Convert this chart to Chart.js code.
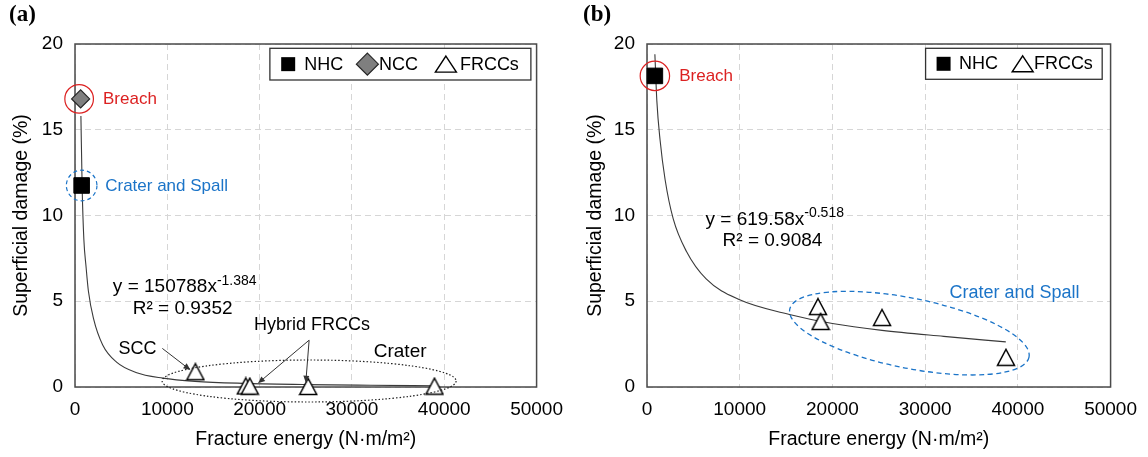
<!DOCTYPE html>
<html>
<head>
<meta charset="utf-8">
<script src="https://cdn.jsdelivr.net/npm/chart.js@4.4.1/dist/chart.umd.min.js"></script>
<style>
  html, body { margin: 0; padding: 0; background: #fff; }
  #wrap { display: flex; width: 1148px; height: 457px; }
  canvas { display: block; }
</style>
</head>
<body>
<div id="wrap">
  <canvas id="chartA" width="574" height="457"></canvas>
  <canvas id="chartB" width="574" height="457"></canvas>
</div>
<script>
// ---- data ----
const xTicks = [0, 10000, 20000, 30000, 40000, 50000];
const yTicks = [0, 5, 10, 15, 20];

// (a)
const nhcEnergyA = [720];
const nhcDamageA = [11.75];
const nccEnergyA = [610];
const nccDamageA = [16.8];
const frccEnergyA = [13040, 18500, 18930, 25260, 38940];
const frccDamageA = [0.89, 0.06, 0.05, 0.03, 0.05];
const fitEnergyA = [640, 780, 960, 1200, 1450, 2000, 3000, 4500, 6600, 9500, 13000, 18500, 25000, 32000, 38940];
const fitDamageA = [15.8, 11.5, 8.6, 7.0, 5.6, 4.0, 2.45, 1.45, 0.85, 0.52, 0.33, 0.21, 0.14, 0.1, 0.07];

// (b)
const nhcEnergyB = [850];
const nhcDamageB = [18.14];
const frccEnergyB = [18440, 18720, 25350, 38720];
const frccDamageB = [4.69, 3.82, 4.05, 1.73];
const fitEnergyB = [850, 1060, 1410, 1950, 2830, 4260, 6380, 9930, 15600, 20000, 25350, 32000, 38700];
const fitDamageB = [19.4, 16.7, 14.4, 12.1, 9.8, 7.9, 6.3, 5.1, 4.2, 3.7, 3.3, 2.95, 2.63];

const FONT = "'Liberation Sans', Arial, sans-serif";
const RED = '#dc2121';
const BLUE = '#1b74c8';

const zip = (xs, ys) => xs.map((x, i) => ({ x: x, y: ys[i] }));

// white triangle marker, centred on its box like the original
function makeTriangle(w, h, lw) {
  const c = document.createElement('canvas');
  c.width = Math.ceil(w + lw * 2);
  c.height = Math.ceil(h + lw * 2);
  const g = c.getContext('2d');
  const ox = (c.width - w) / 2, oy = (c.height - h) / 2;
  g.beginPath();
  g.moveTo(ox + w / 2, oy);
  g.lineTo(ox + w, oy + h);
  g.lineTo(ox, oy + h);
  g.closePath();
  g.fillStyle = '#fff';
  g.fill();
  g.lineWidth = lw;
  g.strokeStyle = '#000';
  g.stroke();
  return c;
}
const triMark = makeTriangle(17, 16, 1.5);

function drawShape(ctx, shape, cx, cy) {
  ctx.save();
  ctx.beginPath();
  if (shape === 'square') {
    ctx.rect(cx - 7, cy - 7, 14, 14);
    ctx.fillStyle = '#000';
    ctx.fill();
  } else if (shape === 'diamond') {
    ctx.moveTo(cx, cy - 11); ctx.lineTo(cx + 11, cy); ctx.lineTo(cx, cy + 11); ctx.lineTo(cx - 11, cy);
    ctx.closePath();
    ctx.fillStyle = '#7f7f7f';
    ctx.fill();
    ctx.lineWidth = 1.2;
    ctx.strokeStyle = '#262626';
    ctx.stroke();
  } else {
    ctx.moveTo(cx, cy - 8); ctx.lineTo(cx + 10.5, cy + 8); ctx.lineTo(cx - 10.5, cy + 8);
    ctx.closePath();
    ctx.fillStyle = '#fff';
    ctx.fill();
    ctx.lineWidth = 1.4;
    ctx.strokeStyle = '#000';
    ctx.stroke();
  }
  ctx.restore();
}

const framePlugin = {
  id: 'frame',
  beforeDatasetsDraw(chart) {
    const a = chart.chartArea, ctx = chart.ctx;
    ctx.save();
    ctx.strokeStyle = '#4a4a4a';
    ctx.lineWidth = 1.5;
    ctx.strokeRect(a.left, a.top, a.right - a.left, a.bottom - a.top);
    ctx.restore();
  }
};

const notesPlugin = {
  id: 'notes',
  afterDraw(chart, args, opts) {
    const ctx = chart.ctx, xs = chart.scales.x, ys = chart.scales.y, a = chart.chartArea;
    const px = v => xs.getPixelForValue(v), py = v => ys.getPixelForValue(v);

    // panel letter
    ctx.save();
    ctx.font = "bold 23px 'Liberation Serif', 'Times New Roman', serif";
    ctx.fillStyle = '#000';
    ctx.textBaseline = 'middle';
    ctx.fillText(opts.panel, 9, 15);
    ctx.restore();

    (opts.items || []).forEach(it => {
      ctx.save();
      if (it.type === 'circle' || it.type === 'ellipse') {
        ctx.beginPath();
        ctx.ellipse(px(it.x) + (it.dx || 0), py(it.y), it.rx, it.ry, (it.rot || 0) * Math.PI / 180, 0, Math.PI * 2);
        ctx.strokeStyle = it.color;
        ctx.lineWidth = it.lw || 1.2;
        ctx.setLineDash(it.dash || []);
        ctx.stroke();
      } else if (it.type === 'arrow') {
        const x1 = px(it.x1), y1 = py(it.y1), x2 = px(it.x2), y2 = py(it.y2);
        const ang = Math.atan2(y2 - y1, x2 - x1);
        ctx.strokeStyle = '#333';
        ctx.fillStyle = '#333';
        ctx.lineWidth = 1;
        ctx.beginPath();
        ctx.moveTo(x1, y1);
        ctx.lineTo(x2 - 5 * Math.cos(ang), y2 - 5 * Math.sin(ang));
        ctx.stroke();
        ctx.beginPath();
        ctx.moveTo(x2, y2);
        ctx.lineTo(x2 - 7 * Math.cos(ang) + 3 * Math.sin(ang), y2 - 7 * Math.sin(ang) - 3 * Math.cos(ang));
        ctx.lineTo(x2 - 7 * Math.cos(ang) - 3 * Math.sin(ang), y2 - 7 * Math.sin(ang) + 3 * Math.cos(ang));
        ctx.closePath();
        ctx.fill();
      } else if (it.type === 'text') {
        ctx.font = (it.size || 18) + 'px ' + FONT;
        ctx.fillStyle = it.color || '#000';
        ctx.textBaseline = 'middle';
        const x = px(it.x), y = py(it.y);
        ctx.fillText(it.text, x, y);
        if (it.sup) {
          const w = ctx.measureText(it.text).width;
          ctx.font = '14px ' + FONT;
          ctx.fillText(it.sup, x + w, y - 6);
        }
      }
      ctx.restore();
    });

    // legend box
    const lg = opts.legend;
    const bx = a.right - lg.inset - lg.w, by = a.top + 4.3;
    ctx.save();
    ctx.fillStyle = '#fff';
    ctx.fillRect(bx, by, lg.w, lg.h);
    ctx.strokeStyle = '#333';
    ctx.lineWidth = 1.3;
    ctx.strokeRect(bx, by, lg.w, lg.h);
    ctx.font = '18px ' + FONT;
    ctx.textBaseline = 'middle';
    lg.items.forEach(li => {
      drawShape(ctx, li.shape, bx + li.mx, by + lg.h / 2);
      ctx.fillStyle = '#000';
      ctx.fillText(li.text, bx + li.tx, by + lg.h / 2 + 0.5);
    });
    ctx.restore();
  }
};

function makeChart(id, datasets, yWidth, rightPad, notes) {
  const tickFont = { family: FONT, size: 19 };
  const titleFont = { family: FONT, size: 19.5 };
  return new Chart(document.getElementById(id), {
    type: 'scatter',
    data: { datasets: datasets },
    options: {
      responsive: false,
      animation: false,
      events: [],
      layout: { padding: { top: 44, right: rightPad, left: 0, bottom: 0 } },
      plugins: { legend: { display: false }, tooltip: { enabled: false }, notes: notes },
      scales: {
        x: {
          type: 'linear', min: 0, max: 50000,
          afterBuildTicks: s => { s.ticks = xTicks.map(v => ({ value: v })); },
          afterFit: s => { s.height = 70; },
          ticks: { font: tickFont, color: '#000', padding: 11, maxRotation: 0, callback: v => String(v) },
          grid: { color: '#d6d6d6', lineWidth: 1, drawTicks: false },
          border: { display: false, dash: [6, 4] },
          title: { display: true, text: 'Fracture energy (N·m/m²)', font: titleFont, color: '#000', padding: { top: 0, bottom: 6 } }
        },
        y: {
          min: 0, max: 20,
          afterBuildTicks: s => { s.ticks = yTicks.map(v => ({ value: v })); },
          afterFit: s => { s.width = yWidth; },
          ticks: { font: tickFont, color: '#000', padding: 12 },
          grid: { color: '#d6d6d6', lineWidth: 1, drawTicks: false },
          border: { display: false, dash: [6, 4] },
          title: { display: true, text: 'Superficial damage (%)', font: titleFont, color: '#000', padding: { top: 10, bottom: 0 } }
        }
      }
    },
    plugins: [framePlugin, notesPlugin]
  });
}

const fitStyle = { showLine: true, pointRadius: 0, borderColor: '#3a3a3a', borderWidth: 1.1,
  cubicInterpolationMode: 'monotone', order: 10, clip: false };

makeChart('chartA', [
  { label: 'NHC', data: zip(nhcEnergyA, nhcDamageA), pointStyle: 'rect', pointRadius: 11,
    backgroundColor: '#000', borderColor: '#000', borderWidth: 1, clip: false, order: 1 },
  { label: 'NCC', data: zip(nccEnergyA, nccDamageA), pointStyle: 'rectRot', pointRadius: 9,
    backgroundColor: '#7f7f7f', borderColor: '#262626', borderWidth: 1.2, clip: false, order: 1 },
  { label: 'FRCCs', data: zip(frccEnergyA, frccDamageA), pointStyle: triMark, clip: false, order: 1 },
  Object.assign({ label: 'fit', data: zip(fitEnergyA, fitDamageA) }, fitStyle)
], 75, 32, {
  panel: '(a)',
  legend: { inset: 5.7, w: 261, h: 31.7, items: [
    { shape: 'square', mx: 18.3, text: 'NHC', tx: 34.3 },
    { shape: 'diamond', mx: 97.5, text: 'NCC', tx: 109 },
    { shape: 'triangle', mx: 176, text: 'FRCCs', tx: 190 }
  ] },
  items: [
    { type: 'circle', x: nccEnergyA[0], y: nccDamageA[0], dx: -1.5, rx: 14.3, ry: 14.3, color: RED },
    { type: 'text', x: 3030, y: 16.8, text: 'Breach', color: RED, size: 17 },
    { type: 'circle', x: nhcEnergyA[0], y: nhcDamageA[0], rx: 15.3, ry: 15.3, color: BLUE, dash: [4, 3] },
    { type: 'text', x: 3270, y: 11.69, text: 'Crater and Spall', color: BLUE, size: 17 },
    { type: 'text', x: 4100, y: 5.83, text: 'y = 150788x', sup: '-1.384', size: 19 },
    { type: 'text', x: 6250, y: 4.58, text: 'R² = 0.9352', size: 19 },
    { type: 'text', x: 4710, y: 2.21, text: 'SCC', size: 18 },
    { type: 'arrow', x1: 9460, y1: 2.25, x2: 12500, y2: 0.99 },
    { type: 'text', x: 19390, y: 3.6, text: 'Hybrid FRCCs', size: 18 },
    { type: 'arrow', x1: 25360, y1: 2.73, x2: 19820, y2: 0.215 },
    { type: 'arrow', x1: 25360, y1: 2.73, x2: 25000, y2: 0.25 },
    { type: 'text', x: 32360, y: 2.03, text: 'Crater', size: 19 },
    { type: 'ellipse', x: 25360, y: 0.35, rx: 147, ry: 21, color: '#222', lw: 1.2, dash: [1.5, 2] }
  ]
});

makeChart('chartB', [
  { label: 'NHC', data: zip(nhcEnergyB, nhcDamageB), pointStyle: 'rect', pointRadius: 11,
    backgroundColor: '#000', borderColor: '#000', borderWidth: 1, clip: false, order: 1 },
  { label: 'FRCCs', data: zip(frccEnergyB, frccDamageB), pointStyle: triMark, clip: false, order: 1 },
  Object.assign({ label: 'fit', data: zip(fitEnergyB, fitDamageB) }, fitStyle)
], 73, 31, {
  panel: '(b)',
  legend: { inset: 8.4, w: 176.6, h: 31, items: [
    { shape: 'square', mx: 18, text: 'NHC', tx: 33.3 },
    { shape: 'triangle', mx: 97.1, text: 'FRCCs', tx: 108.3 }
  ] },
  items: [
    { type: 'circle', x: nhcEnergyB[0], y: nhcDamageB[0], rx: 14.7, ry: 14.7, color: RED },
    { type: 'text', x: 3470, y: 18.14, text: 'Breach', color: RED, size: 17 },
    { type: 'text', x: 6310, y: 9.77, text: 'y = 619.58x', sup: '-0.518', size: 19 },
    { type: 'text', x: 8150, y: 8.5, text: 'R² = 0.9084', size: 19 },
    { type: 'ellipse', x: 28300, y: 3.14, rx: 122, ry: 35, rot: 11.3, color: BLUE, lw: 1.3, dash: [5, 3.5] },
    { type: 'text', x: 32620, y: 5.5, text: 'Crater and Spall', color: BLUE, size: 18 }
  ]
});
</script>
</body>
</html>
